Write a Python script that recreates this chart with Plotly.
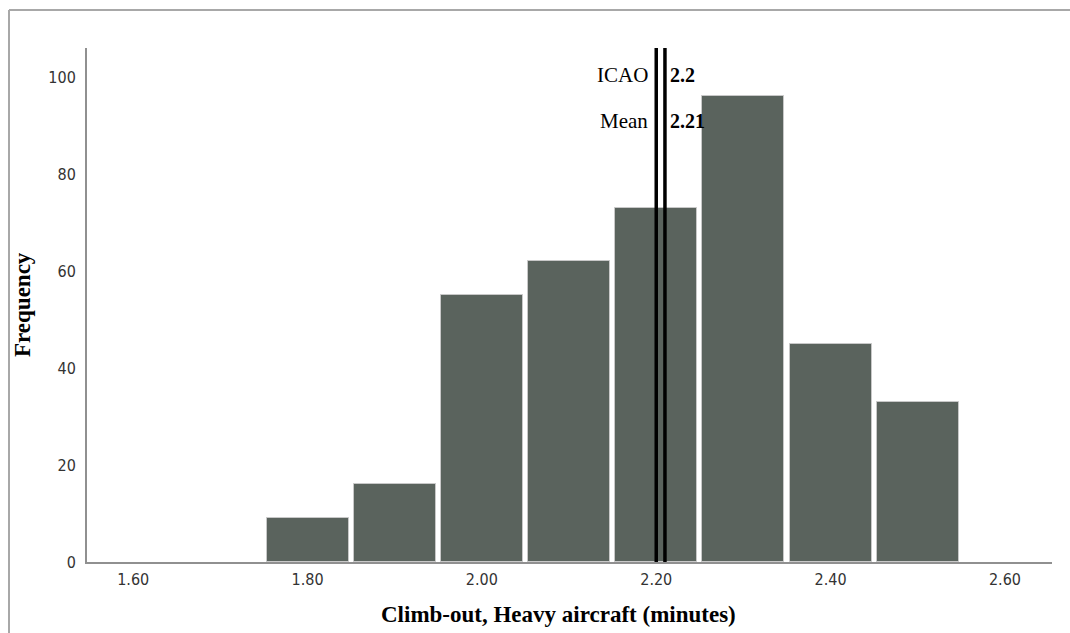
import plotly.graph_objects as go

bin_centers = [1.80, 1.90, 2.00, 2.10, 2.20, 2.30, 2.40, 2.50]
frequencies = [9, 16, 55, 62, 73, 96, 45, 33]
ref_names = ["ICAO", "Mean"]
ref_values = [2.20, 2.21]
x_ticks = [1.60, 1.80, 2.00, 2.20, 2.40, 2.60]
y_ticks = [0, 20, 40, 60, 80, 100]

W, H = 1070, 633
ML, MR, MT, MB = 87, 18, 48, 71
pw, ph = W - ML - MR, H - MT - MB

fig = go.Figure()
fig.add_trace(go.Bar(
    x=bin_centers, y=frequencies, width=0.094,
    marker=dict(color="#5a635d", line=dict(color="#c8c8c8", width=1)),
    showlegend=False,
))

for v in ref_values:
    fig.add_shape(type="line", xref="x", yref="paper", x0=v, x1=v, y0=0, y1=1,
                  line=dict(color="black", width=3.5))

label_y = [100.5, 91]
for name, v, yy in zip(ref_names, ref_values, label_y):
    fig.add_annotation(x=min(ref_values), y=yy, xref="x", yref="y", text=name,
                       showarrow=False, xanchor="right", xshift=-6,
                       font=dict(family="Liberation Serif", size=21, color="black"))
    fig.add_annotation(x=max(ref_values), y=yy, xref="x", yref="y", text="<b>%g</b>" % v,
                       showarrow=False, xanchor="left", xshift=3,
                       font=dict(family="Liberation Serif", size=20, color="black"))

# axis titles placed in pixel terms
fig.add_annotation(xref="paper", yref="paper", x=(558 - ML) / pw, y=-(614 - MT - ph) / ph,
                   text="<b>Climb-out, Heavy aircraft (minutes)</b>", showarrow=False,
                   xanchor="center", yanchor="middle",
                   font=dict(family="Liberation Serif", size=23, color="black"))
fig.add_annotation(xref="paper", yref="paper", x=(22 - ML) / pw, y=1 - (305 - MT) / ph,
                   text="<b>Frequency</b>", showarrow=False, textangle=-90,
                   xanchor="center", yanchor="middle",
                   font=dict(family="Liberation Serif", size=23, color="black"))

# outer frame (top and left)
fx = (9 - ML) / pw
fy = 1 + (MT - 10) / ph
fig.add_shape(type="line", xref="paper", yref="paper", x0=fx, x1=(W - ML) / pw, y0=fy, y1=fy,
              line=dict(color="#a8a8a8", width=2))
fig.add_shape(type="line", xref="paper", yref="paper", x0=fx, x1=fx, y0=-MB / ph, y1=fy,
              line=dict(color="#a8a8a8", width=2))

tick_font = dict(family="Liberation Sans Narrow, DejaVu Sans Condensed", size=16, color="#333")
fig.update_layout(
    width=W, height=H,
    margin=dict(l=ML, r=MR, t=MT, b=MB),
    plot_bgcolor="white", paper_bgcolor="white",
    bargap=0,
    xaxis=dict(range=[1.547, 2.654], tickvals=x_ticks,
               ticktext=["%.2f" % t for t in x_ticks],
               showgrid=False, zeroline=False, showline=True, linecolor="#909090", linewidth=2,
               ticks="", tickfont=tick_font, ticklabelstandoff=2),
    yaxis=dict(range=[0, 106], tickvals=y_ticks, showgrid=False, zeroline=False,
               showline=True, linecolor="#909090", linewidth=2, ticks="",
               tickfont=tick_font, ticklabelstandoff=6),
)

fig.write_html("out.html")
